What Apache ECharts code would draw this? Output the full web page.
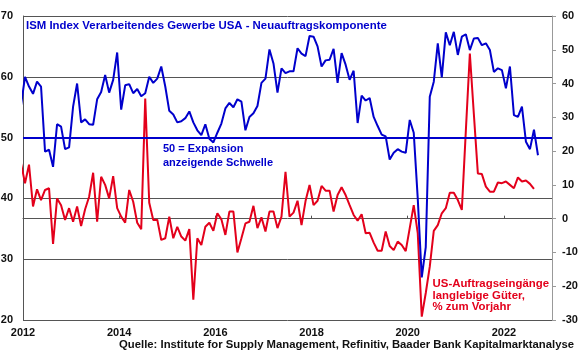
<!DOCTYPE html>
<html><head><meta charset="utf-8">
<script src="https://cdn.jsdelivr.net/npm/echarts@6/dist/echarts.min.js"></script>
<style>html,body{margin:0;padding:0;background:#fff}#c{width:580px;height:359px}</style>
</head><body><div id="c"></div>
<script>
// first month of both series (Dec 2011), monthly data
const firstMonth = [2011, 12];
// ISM Manufacturing, New Orders index (left axis)
const ismNewOrders = [
 55.3,
 60.0,58.4,57.2,59.2,58.4,47.7,48.0,45.2,52.2,51.8,48.1,48.4,
 55.1,58.9,52.5,53.0,52.2,52.1,56.3,57.5,60.3,57.4,59.5,64.0,
 54.6,58.6,58.8,57.3,58.0,56.8,57.3,60.0,59.0,59.7,61.7,58.4,
 54.4,53.8,52.5,52.7,53.2,54.3,52.5,51.2,50.4,52.2,49.8,49.2,
 50.8,52.3,54.8,55.7,55.0,56.3,55.9,51.2,53.4,54.0,55.2,59.0,
 59.7,64.5,62.2,57.4,61.4,60.6,60.9,60.9,64.7,63.8,63.4,66.7,
 66.6,65.0,61.7,62.7,62.8,64.6,59.0,63.9,62.0,59.5,61.0,52.4,
 56.9,56.1,56.5,53.4,51.9,50.5,50.2,46.4,47.5,48.1,47.7,47.5,
 52.9,50.8,40.0,27.0,32.0,56.7,59.2,65.5,59.9,67.3,65.2,67.4,
 63.6,66.6,67.0,64.4,66.3,66.4,65.2,65.5,64.4,60.8,61.4,61.1,
 58.1,61.7,53.7,53.4,55.1,49.3,48.1,51.3,47.1
];
// US durable goods orders, % y/y (right axis)
const durableGoodsYoY = [
 16.4,
 10.5,16.0,3.6,8.7,5.5,8.5,9.0,-7.5,6.0,4.0,-0.4,3.1,
 -0.9,3.6,-2.2,2.8,6.5,13.6,-0.9,12.4,10.0,6.0,12.6,3.1,
 0.6,-1.2,8.5,5.0,-1.2,-3.1,35.6,4.7,-0.4,-0.3,-6.3,-5.8,
 0.6,-5.8,-2.4,-5.3,-6.5,-3.1,-24.0,-5.8,-7.8,-2.4,-1.2,-3.6,
 1.6,-0.2,-4.8,2.1,2.1,-10.0,-5.8,-1.4,-0.9,3.8,-2.8,0.4,
 -3.8,2.1,2.1,-2.8,0.6,13.9,0.6,1.8,5.3,-1.9,5.2,10.0,
 4.0,5.3,9.7,8.3,8.3,2.1,7.0,9.3,7.0,4.0,1.1,-0.6,
 1.3,-4.3,-4.2,-7.1,-9.5,-9.5,-3.8,-8.1,-9.3,-6.8,-7.8,-9.6,
 -2.8,4.0,-4.3,-29.0,-22.0,-14.2,-3.6,-1.9,1.6,3.1,7.7,7.7,
 5.5,2.6,26.0,48.9,31.0,13.4,13.2,9.5,8.0,8.0,10.7,10.5,
 11.0,10.0,9.0,12.2,11.0,11.3,10.3,8.8
];
const xTickYears = [2012, 2014, 2016, 2018, 2020, 2022];
const xAxisEnd = 2023;
const leftTicks = [20, 30, 40, 50, 60, 70];
const rightTicks = [-30, -20, -10, 0, 10, 20, 30, 40, 50, 60];
const threshold = 50;

const titleText = 'ISM Index Verarbeitendes Gewerbe USA - Neuauftragskomponente';
const thresholdText = '50 = Expansion\nanzeigende Schwelle';
const redText = 'US-Auftragseingänge\nlanglebige Güter,\n% zum Vorjahr';
const sourceText = 'Quelle: Institute for Supply Management, Refinitiv, Baader Bank Kapitalmarktanalyse';

// month index -> decimal year (mid-month)
function monthX(i) {
  const m = firstMonth[0] * 12 + (firstMonth[1] - 1) + i;
  return Math.floor(m / 12) + ((m % 12) + 0.5) / 12;
}
const blueData = ismNewOrders.map((v, i) => [monthX(i), v]);
const redData = durableGoodsYoY.map((v, i) => [monthX(i), v]);

const BLUE = '#0000cc', RED = '#e3001b';
const FONT = '"Liberation Sans", Arial, sans-serif';
const chart = echarts.init(document.getElementById('c'), null, {renderer: 'canvas'});
chart.setOption({
  animation: false,
  backgroundColor: '#fff',
  grid: {left: 23, right: 28, top: 16, bottom: 39, containLabel: false, outerBoundsMode: 'none'},
  xAxis: {
    type: 'value', min: xTickYears[0], max: xAxisEnd, interval: xTickYears[1] - xTickYears[0],
    axisLine: {show: true, lineStyle: {color: '#555', width: 1}},
    axisTick: {show: true, inside: true, length: 3, lineStyle: {color: '#555'}},
    splitLine: {show: false},
    axisLabel: {
      show: true, margin: 7, color: '#111', fontFamily: FONT, fontWeight: 'bold', fontSize: 11,
      showMaxLabel: false,
      formatter: v => xTickYears.includes(v) ? String(v) : ''
    }
  },
  yAxis: [{
    type: 'value', min: leftTicks[0], max: leftTicks[leftTicks.length - 1], interval: leftTicks[1] - leftTicks[0],
    position: 'left',
    axisLine: {show: true, lineStyle: {color: '#555', width: 1}},
    axisTick: {show: false},
    splitLine: {show: true, lineStyle: {color: '#555', width: 1}},
    axisLabel: {margin: 10, color: '#111', fontFamily: FONT, fontWeight: 'bold', fontSize: 11}
  }, {
    type: 'value', min: rightTicks[0], max: rightTicks[rightTicks.length - 1], interval: rightTicks[1] - rightTicks[0],
    position: 'right',
    axisLine: {show: true, lineStyle: {color: '#999', width: 1}},
    axisTick: {show: true, inside: false, length: 4, lineStyle: {color: '#999'}},
    splitLine: {show: false},
    axisLabel: {margin: 10, color: '#111', fontFamily: FONT, fontWeight: 'bold', fontSize: 11, align: 'left'}
  }],
  series: [{
    type: 'line', name: 'durable', yAxisIndex: 1, data: redData, showSymbol: false, symbol: 'none',
    lineStyle: {color: RED, width: 2}, z: 3
  }, {
    type: 'line', name: 'ism', yAxisIndex: 0, data: blueData, showSymbol: false, symbol: 'none',
    lineStyle: {color: BLUE, width: 2}, z: 4,
    markLine: {
      silent: true, symbol: 'none', label: {show: false},
      lineStyle: {color: BLUE, width: 2, type: 'solid'},
      data: [{yAxis: threshold}]
    }
  }],
  graphic: [
    {type: 'text', left: 26, top: 20, z: 10, style: {text: titleText, fill: BLUE, font: 'bold 11.4px ' + FONT}},
    {type: 'text', left: 163, top: 142, z: 10, style: {text: thresholdText, fill: BLUE, font: 'bold 11px ' + FONT, lineHeight: 14}},
    {type: 'text', right: 31, top: 278, z: 10, style: {text: redText, fill: RED, font: 'bold 11.4px ' + FONT, lineHeight: 11.6, align: 'right'}},
    {type: 'text', right: 6, top: 339, z: 10, style: {text: sourceText, fill: '#111', font: 'bold 11.3px ' + FONT}}
  ]
});
</script></body></html>
